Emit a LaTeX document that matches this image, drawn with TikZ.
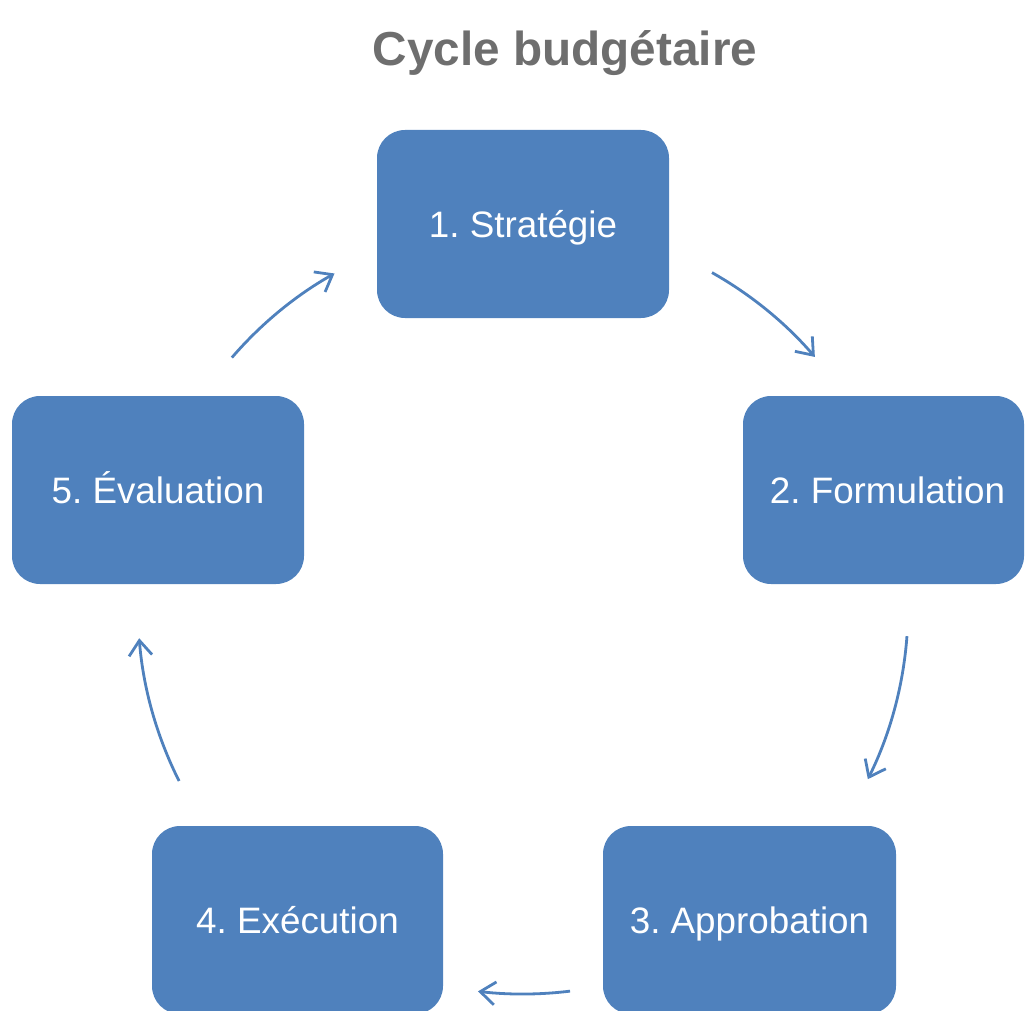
\documentclass[tikz,border=0pt]{standalone}
\usepackage{fontspec}
\setmainfont{Liberation Sans}
\usetikzlibrary{arrows.meta}
\definecolor{boxblue}{HTML}{4F81BD}
\definecolor{titlegray}{HTML}{6E6E6E}
\frenchspacing
\begin{document}
\begin{tikzpicture}[x=1pt,y=1pt,
  stage/.style={draw=none, fill=boxblue, rounded corners=28pt, minimum height=188pt,
    inner sep=0pt, text=white, font=\fontsize{36.8}{44}\selectfont,
    text height=26.4pt, text depth=0pt},
  cyc/.style={draw=boxblue, line width=2.8pt,
    -{Straight Barb[length=15pt,width=23pt]}}]
\clip (0,0) rectangle (1025,-1011);
\useasboundingbox (0,0) rectangle (1025,-1011);

\node[font=\fontsize{47.7}{56}\selectfont\bfseries, text=titlegray, anchor=base, inner sep=0pt]
  (title) at (565,-66) {Cycle budgétaire};

\node[stage, minimum width=292pt] (s1) at (523,-224) {1. Stratégie};
\node[stage, minimum width=281pt] (s2) at (883.5,-490) {\hspace{8pt}2. Formulation};
\node[stage, minimum width=293pt] (s3) at (749.5,-920) {3. Approbation};
\node[stage, minimum width=291pt] (s4) at (297.5,-920) {4. Exécution};
\node[stage, minimum width=292pt] (s5) at (158,-490) {5. Évaluation};

\coordinate (ctr) at (523,-608);
\coordinate (a1) at ([shift={(60.6:385)}]ctr);
\coordinate (a2) at ([shift={(-4.2:385)}]ctr);
\coordinate (a3) at ([shift={(-83.0:386)}]ctr);
\coordinate (a4) at ([shift={(206.7:385)}]ctr);
\coordinate (a5) at ([shift={(139.3:384)}]ctr);

\draw[cyc] (a1) arc[start angle=60.6, end angle=40.7, radius=385];
\draw[cyc] (a2) arc[start angle=-4.2, end angle=-26.4, radius=385];
\draw[cyc] (a3) arc[start angle=-83.0, end angle=-96.7, radius=386];
\draw[cyc] (a4) arc[start angle=206.7, end angle=184.5, radius=385];
\draw[cyc] (a5) arc[start angle=139.3, end angle=119.4, radius=384];
\end{tikzpicture}
\end{document}
